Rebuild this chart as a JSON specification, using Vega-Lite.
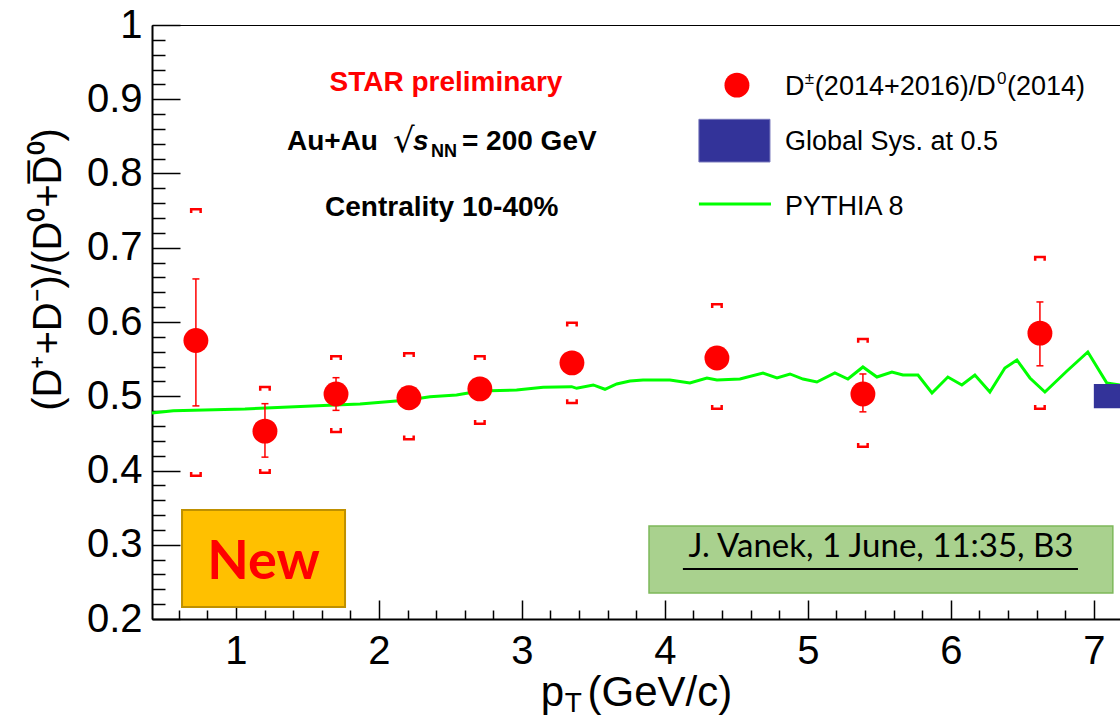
{
  "$schema": "https://vega.github.io/schema/vega-lite/v6.json",
  "width": 969,
  "height": 594,
  "autosize": "none",
  "padding": {"left": 152, "top": 25, "right": 0, "bottom": 99},
  "background": "white",
  "config": {
    "view": {"stroke": "#000", "strokeWidth": 1},
    "axis": {"domainColor": "#000", "tickColor": "#000", "labelColor": "#000", "titleColor": "#000", "grid": false, "labelFont": "Liberation Sans", "titleFont": "Liberation Sans"},
    "text": {"font": "Liberation Sans"}
  },
  "datasets": {
    "pts": [
      {"x": 0.72, "y": 0.575, "ylo": 0.487, "yhi": 0.658, "slo": 0.393, "shi": 0.752},
      {"x": 1.203, "y": 0.453, "ylo": 0.418, "yhi": 0.49, "slo": 0.397, "shi": 0.5125},
      {"x": 1.7, "y": 0.503, "ylo": 0.481, "yhi": 0.525, "slo": 0.452, "shi": 0.554},
      {"x": 2.21, "y": 0.498, "ylo": 0.483, "yhi": 0.513, "slo": 0.442, "shi": 0.558},
      {"x": 2.706, "y": 0.51, "ylo": 0.495, "yhi": 0.525, "slo": 0.463, "shi": 0.554},
      {"x": 3.35, "y": 0.545, "ylo": 0.53, "yhi": 0.56, "slo": 0.491, "shi": 0.599},
      {"x": 4.364, "y": 0.5515, "ylo": 0.537, "yhi": 0.566, "slo": 0.483, "shi": 0.624},
      {"x": 5.385, "y": 0.503, "ylo": 0.479, "yhi": 0.53, "slo": 0.432, "shi": 0.577},
      {"x": 6.623, "y": 0.585, "ylo": 0.541, "yhi": 0.627, "slo": 0.483, "shi": 0.6875}
    ],
    "py": [
      {"x": 0.413, "y": 0.4774}, {"x": 0.562, "y": 0.4805}, {"x": 1.063, "y": 0.4828}, {"x": 1.25, "y": 0.4846},
      {"x": 1.693, "y": 0.4882}, {"x": 1.868, "y": 0.4896}, {"x": 2.205, "y": 0.4949}, {"x": 2.357, "y": 0.4994},
      {"x": 2.543, "y": 0.5017}, {"x": 2.706, "y": 0.5071}, {"x": 2.963, "y": 0.5084}, {"x": 3.149, "y": 0.512},
      {"x": 3.348, "y": 0.5129}, {"x": 3.383, "y": 0.5107}, {"x": 3.499, "y": 0.5152}, {"x": 3.581, "y": 0.5094},
      {"x": 3.663, "y": 0.5165}, {"x": 3.756, "y": 0.5205}, {"x": 3.847, "y": 0.5219}, {"x": 4.035, "y": 0.5219},
      {"x": 4.175, "y": 0.5178}, {"x": 4.294, "y": 0.5246}, {"x": 4.364, "y": 0.5219}, {"x": 4.525, "y": 0.5232},
      {"x": 4.686, "y": 0.5313}, {"x": 4.784, "y": 0.5246}, {"x": 4.875, "y": 0.53}, {"x": 4.966, "y": 0.5232},
      {"x": 5.063, "y": 0.5192}, {"x": 5.189, "y": 0.5313}, {"x": 5.28, "y": 0.5232}, {"x": 5.385, "y": 0.5394},
      {"x": 5.483, "y": 0.5259}, {"x": 5.588, "y": 0.5327}, {"x": 5.665, "y": 0.5286}, {"x": 5.77, "y": 0.5286},
      {"x": 5.868, "y": 0.5044}, {"x": 5.979, "y": 0.5259}, {"x": 6.077, "y": 0.5152}, {"x": 6.168, "y": 0.5286},
      {"x": 6.273, "y": 0.5057}, {"x": 6.378, "y": 0.538}, {"x": 6.462, "y": 0.5488}, {"x": 6.553, "y": 0.5246},
      {"x": 6.658, "y": 0.5057}, {"x": 6.812, "y": 0.534}, {"x": 6.958, "y": 0.5596}, {"x": 7.091, "y": 0.5178},
      {"x": 7.182, "y": 0.5152}
    ],
    "glob": [{"x": 7.0, "x2": 7.4, "y": 0.484, "y2": 0.5165}],
    "legpt": [{"x": 4.504, "y": 0.919}],
    "legrect": [{"x": 4.238, "x2": 4.735, "y": 0.873, "y2": 0.8155}],
    "legline": [{"x": 4.238, "x2": 4.742, "y": 0.759}],
    "newbox": [{"x": 0.623, "x2": 1.763, "y": 0.3468, "y2": 0.2162}],
    "greenbox": [{"x": 3.889, "x2": 7.133, "y": 0.3252, "y2": 0.235}],
    "uline": [{"x": 4.126, "x2": 6.889, "y": 0.2673}],
    "txtStar": [{"x": 2.469, "y": 0.9111, "t": "STAR preliminary"}],
    "txtBold": [{"x": 1.357, "y": 0.8316, "t": "Au+Au"}, {"x": 2.581, "y": 0.8316, "t": "= 200 GeV"}, {"x": 1.623, "y": 0.7434, "t": "Centrality 10-40%"}],
    "txtS": [{"x": 2.238, "y": 0.8316, "t": "s"}],
    "txtNN": [{"x": 2.364, "y": 0.8222, "t": "NN"}],
    "txtSqrt": [{"x": 2.098, "y": 0.829, "t": "√"}],
    "txtLeg": [{"x": 4.84, "y": 0.9057, "t": "D"}, {"x": 5.049, "y": 0.9057, "t": "(2014+2016)/D"}, {"x": 6.392, "y": 0.9057, "t": "(2014)"}, {"x": 4.84, "y": 0.8316, "t": "Global Sys. at 0.5"}, {"x": 4.84, "y": 0.7441, "t": "PYTHIA 8"}],
    "txtSup": [{"x": 4.979, "y": 0.9205, "t": "±"}, {"x": 6.322, "y": 0.9205, "t": "0"}],
    "txtNew": [{"x": 1.193, "y": 0.2532, "t": "New"}],
    "txtVanek": [{"x": 5.511, "y": 0.2835, "t": "J. Vanek, 1 June, 11:35, B3"}],
    "txtT": [{"x": 3.3, "y": 0.0747, "t": "T"}]
  },
  "resolve": {"axis": {"x": "independent", "y": "independent"}},
  "layer": [
    {
      "data": {"name": "py"},
      "mark": {"type": "line", "color": "#00ff00", "strokeWidth": 3},
      "encoding": {
        "x": {"field": "x", "type": "quantitative", "scale": {"domain": [0.413, 7.19], "nice": false, "zero": false},
          "axis": {"orient": "bottom", "values": [1, 2, 3, 4, 5, 6, 7], "labels": false, "domain": false, "tickSize": -19, "tickWidth": 1.5, "title": null}},
        "y": {"field": "y", "type": "quantitative", "scale": {"domain": [0.2, 1], "nice": false, "zero": false},
          "axis": {"orient": "left", "values": [0.2, 0.3, 0.4, 0.5, 0.6, 0.7, 0.8, 0.9, 1.0], "labels": false, "domain": false, "tickSize": -28, "tickWidth": 1.5, "title": null}}
      }
    },
    {
      "data": {"name": "pts"},
      "mark": {"type": "rule", "color": "#ff0000", "strokeWidth": 1.5},
      "encoding": {
        "x": {"field": "x", "type": "quantitative", "scale": {"domain": [0.413, 7.19], "nice": false, "zero": false},
          "axis": {"orient": "bottom", "values": [0.6, 0.8, 1.2, 1.4, 1.6, 1.8, 2.2, 2.4, 2.6, 2.8, 3.2, 3.4, 3.6, 3.8, 4.2, 4.4, 4.6, 4.8, 5.2, 5.4, 5.6, 5.8, 6.2, 6.4, 6.6, 6.8], "labels": false, "domain": false, "tickSize": -9, "tickWidth": 1.5, "title": null}},
        "y": {"field": "ylo", "type": "quantitative", "scale": {"domain": [0.2, 1], "nice": false, "zero": false},
          "axis": {"orient": "left", "values": [0.22, 0.24, 0.26, 0.28, 0.32, 0.34, 0.36, 0.38, 0.42, 0.44, 0.46, 0.48, 0.52, 0.54, 0.56, 0.58, 0.62, 0.64, 0.66, 0.68, 0.72, 0.74, 0.76, 0.78, 0.82, 0.84, 0.86, 0.88, 0.92, 0.94, 0.96, 0.98], "labels": false, "domain": false, "tickSize": -13, "tickWidth": 1.5, "title": null}},
        "y2": {"field": "yhi"}
      }
    },
    {
      "data": {"name": "pts"},
      "mark": {"type": "point", "shape": "M-1,0L1,0", "size": 49, "filled": false, "color": "#ff0000", "strokeWidth": 1.5, "opacity": 1},
      "encoding": {
        "x": {"field": "x", "type": "quantitative", "axis": null},
        "y": {"field": "yhi", "type": "quantitative", "axis": null}
      }
    },
    {
      "data": {"name": "pts"},
      "mark": {"type": "point", "shape": "M-1,0L1,0", "size": 49, "filled": false, "color": "#ff0000", "strokeWidth": 1.5, "opacity": 1},
      "encoding": {
        "x": {"field": "x", "type": "quantitative", "axis": null},
        "y": {"field": "ylo", "type": "quantitative", "axis": null}
      }
    },
    {
      "data": {"name": "pts"},
      "mark": {"type": "point", "shape": "M-1,0.8L-1,0L1,0L1,0.8", "size": 90, "filled": false, "color": "#ff0000", "strokeWidth": 2.5, "opacity": 1},
      "encoding": {
        "x": {"field": "x", "type": "quantitative", "axis": null},
        "y": {"field": "shi", "type": "quantitative", "axis": null}
      }
    },
    {
      "data": {"name": "pts"},
      "mark": {"type": "point", "shape": "M-1,-0.8L-1,0L1,0L1,-0.8", "size": 90, "filled": false, "color": "#ff0000", "strokeWidth": 2.5, "opacity": 1},
      "encoding": {
        "x": {"field": "x", "type": "quantitative", "axis": null},
        "y": {"field": "slo", "type": "quantitative", "axis": null}
      }
    },
    {
      "data": {"name": "pts"},
      "mark": {"type": "point", "shape": "circle", "filled": true, "size": 620, "color": "#ff0000", "opacity": 1},
      "encoding": {
        "x": {"field": "x", "type": "quantitative", "scale": {"domain": [0.413, 7.19], "nice": false, "zero": false},
          "axis": {"orient": "bottom", "values": [1, 2, 3, 4, 5, 6, 7], "format": "d", "ticks": false, "domain": true, "domainWidth": 2, "labelFontSize": 40, "labelPadding": 12,
            "title": "p\u00a0\u00a0(GeV/c)", "titleFontSize": 42, "titleFontWeight": "normal", "titleX": 484, "titleY": 86, "titleAlign": "center", "titleBaseline": "alphabetic"}},
        "y": {"field": "y", "type": "quantitative", "scale": {"domain": [0.2, 1], "nice": false, "zero": false},
          "axis": {"orient": "left", "values": [0.2, 0.3, 0.4, 0.5, 0.6, 0.7, 0.8, 0.9, 1.0], "format": ".1~f", "ticks": false, "domain": true, "domainWidth": 2, "labelFontSize": 40, "labelPadding": 10,
            "title": "(D⁺+D⁻)/(D⁰+D̅⁰)", "titleFontSize": 40, "titleFontWeight": "normal", "titleAngle": -90, "titleX": -92, "titleY": 244, "titleAlign": "center", "titleBaseline": "alphabetic"}}
      }
    },
    {
      "data": {"name": "glob"},
      "mark": {"type": "rect", "color": "#333399", "clip": true},
      "encoding": {
        "x": {"field": "x", "type": "quantitative", "axis": null}, "x2": {"field": "x2"},
        "y": {"field": "y", "type": "quantitative", "axis": null}, "y2": {"field": "y2"}
      }
    },
    {
      "data": {"name": "legpt"},
      "mark": {"type": "point", "shape": "circle", "filled": true, "size": 620, "color": "#ff0000", "opacity": 1},
      "encoding": {
        "x": {"field": "x", "type": "quantitative", "axis": null},
        "y": {"field": "y", "type": "quantitative", "axis": null}
      }
    },
    {
      "data": {"name": "legrect"},
      "mark": {"type": "rect", "fill": "#333399", "stroke": "#7777bb", "strokeWidth": 1},
      "encoding": {
        "x": {"field": "x", "type": "quantitative", "axis": null}, "x2": {"field": "x2"},
        "y": {"field": "y", "type": "quantitative", "axis": null}, "y2": {"field": "y2"}
      }
    },
    {
      "data": {"name": "legline"},
      "mark": {"type": "rule", "color": "#00ff00", "strokeWidth": 3},
      "encoding": {
        "x": {"field": "x", "type": "quantitative", "axis": null}, "x2": {"field": "x2"},
        "y": {"field": "y", "type": "quantitative", "axis": null}
      }
    },
    {
      "data": {"name": "newbox"},
      "mark": {"type": "rect", "fill": "#FFC000", "stroke": "#BF9000", "strokeWidth": 2},
      "encoding": {
        "x": {"field": "x", "type": "quantitative", "axis": null}, "x2": {"field": "x2"},
        "y": {"field": "y", "type": "quantitative", "axis": null}, "y2": {"field": "y2"}
      }
    },
    {
      "data": {"name": "greenbox"},
      "mark": {"type": "rect", "fill": "#A9D18E", "stroke": "#7DB85A", "strokeWidth": 1.5},
      "encoding": {
        "x": {"field": "x", "type": "quantitative", "axis": null}, "x2": {"field": "x2"},
        "y": {"field": "y", "type": "quantitative", "axis": null}, "y2": {"field": "y2"}
      }
    },
    {
      "data": {"name": "uline"},
      "mark": {"type": "rule", "color": "#000", "strokeWidth": 2},
      "encoding": {
        "x": {"field": "x", "type": "quantitative", "axis": null}, "x2": {"field": "x2"},
        "y": {"field": "y", "type": "quantitative", "axis": null}
      }
    },
    {
      "data": {"name": "txtStar"},
      "mark": {"type": "text", "font": "Liberation Sans", "fontWeight": "bold", "fontSize": 28, "color": "#ff0000", "align": "center", "baseline": "alphabetic"},
      "encoding": {
        "x": {"field": "x", "type": "quantitative", "axis": null},
        "y": {"field": "y", "type": "quantitative", "axis": null},
        "text": {"field": "t"}
      }
    },
    {
      "data": {"name": "txtBold"},
      "mark": {"type": "text", "font": "Liberation Sans", "fontWeight": "bold", "fontSize": 28, "color": "#000", "align": "left", "baseline": "alphabetic"},
      "encoding": {
        "x": {"field": "x", "type": "quantitative", "axis": null},
        "y": {"field": "y", "type": "quantitative", "axis": null},
        "text": {"field": "t"}
      }
    },
    {
      "data": {"name": "txtS"},
      "mark": {"type": "text", "font": "Liberation Sans", "fontWeight": "bold", "fontStyle": "italic", "fontSize": 28, "color": "#000", "align": "left", "baseline": "alphabetic"},
      "encoding": {
        "x": {"field": "x", "type": "quantitative", "axis": null},
        "y": {"field": "y", "type": "quantitative", "axis": null},
        "text": {"field": "t"}
      }
    },
    {
      "data": {"name": "txtNN"},
      "mark": {"type": "text", "font": "Liberation Sans", "fontWeight": "bold", "fontSize": 18, "color": "#000", "align": "left", "baseline": "alphabetic"},
      "encoding": {
        "x": {"field": "x", "type": "quantitative", "axis": null},
        "y": {"field": "y", "type": "quantitative", "axis": null},
        "text": {"field": "t"}
      }
    },
    {
      "data": {"name": "txtSqrt"},
      "mark": {"type": "text", "font": "DejaVu Sans", "fontSize": 34, "color": "#000", "align": "left", "baseline": "alphabetic"},
      "encoding": {
        "x": {"field": "x", "type": "quantitative", "axis": null},
        "y": {"field": "y", "type": "quantitative", "axis": null},
        "text": {"field": "t"}
      }
    },
    {
      "data": {"name": "txtLeg"},
      "mark": {"type": "text", "font": "Liberation Sans", "fontSize": 27, "color": "#000", "align": "left", "baseline": "alphabetic"},
      "encoding": {
        "x": {"field": "x", "type": "quantitative", "axis": null},
        "y": {"field": "y", "type": "quantitative", "axis": null},
        "text": {"field": "t"}
      }
    },
    {
      "data": {"name": "txtSup"},
      "mark": {"type": "text", "font": "Liberation Sans", "fontSize": 17, "color": "#000", "align": "left", "baseline": "alphabetic"},
      "encoding": {
        "x": {"field": "x", "type": "quantitative", "axis": null},
        "y": {"field": "y", "type": "quantitative", "axis": null},
        "text": {"field": "t"}
      }
    },
    {
      "data": {"name": "txtNew"},
      "mark": {"type": "text", "font": "Lato", "fontWeight": "bold", "fontSize": 54, "color": "#ff0000", "align": "center", "baseline": "alphabetic"},
      "encoding": {
        "x": {"field": "x", "type": "quantitative", "axis": null},
        "y": {"field": "y", "type": "quantitative", "axis": null},
        "text": {"field": "t"}
      }
    },
    {
      "data": {"name": "txtVanek"},
      "mark": {"type": "text", "font": "Lato", "fontSize": 33, "color": "#000", "align": "center", "baseline": "alphabetic"},
      "encoding": {
        "x": {"field": "x", "type": "quantitative", "axis": null},
        "y": {"field": "y", "type": "quantitative", "axis": null},
        "text": {"field": "t"}
      }
    },
    {
      "data": {"name": "txtT"},
      "mark": {"type": "text", "font": "Liberation Sans", "fontSize": 28, "color": "#000", "align": "left", "baseline": "alphabetic"},
      "encoding": {
        "x": {"field": "x", "type": "quantitative", "axis": null},
        "y": {"field": "y", "type": "quantitative", "axis": null},
        "text": {"field": "t"}
      }
    }
  ]
}
